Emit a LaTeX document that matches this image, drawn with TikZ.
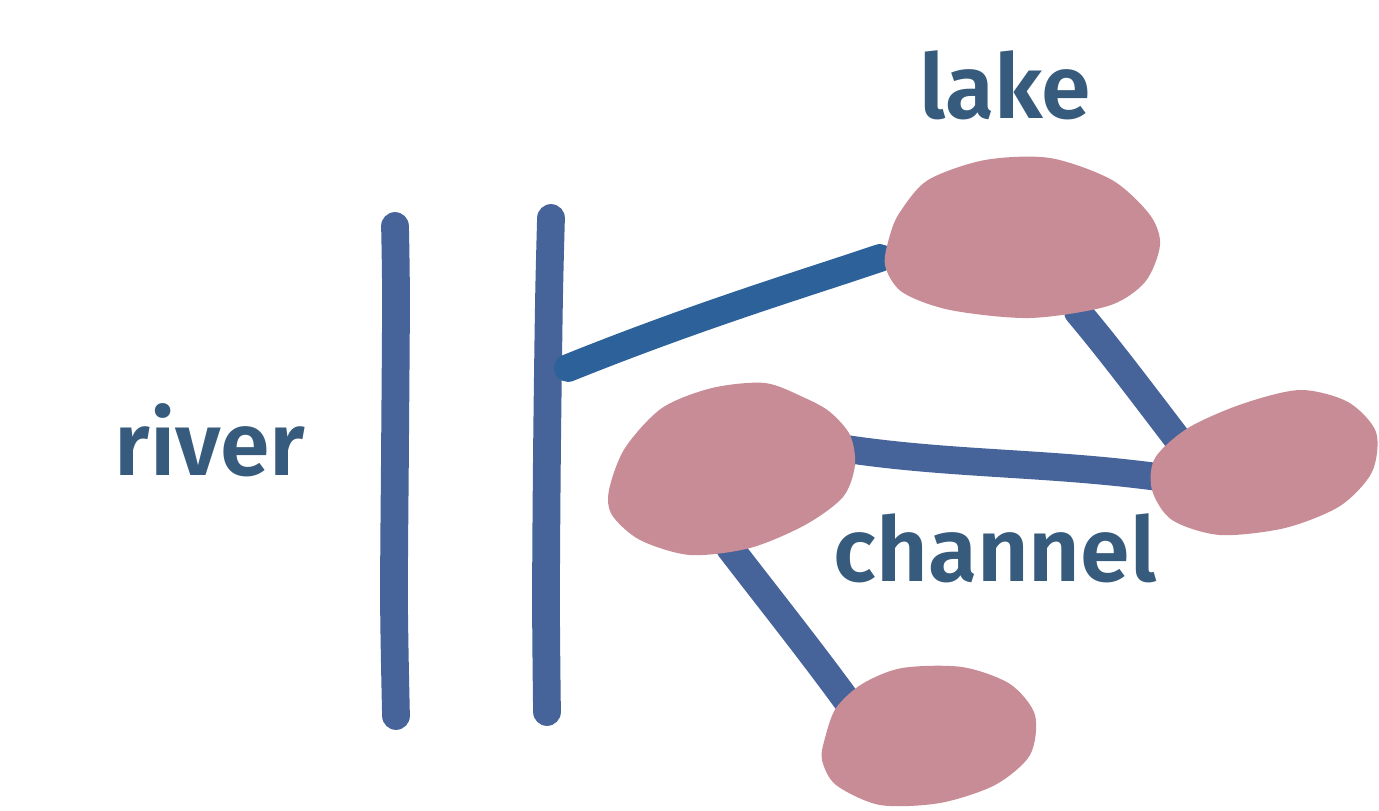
\documentclass[tikz,border=0pt]{standalone}
\usepackage{fontspec}
\setmainfont{Fira Sans}[BoldFont={* SemiBold}]
\definecolor{blusponda}{HTML}{46639A}
\definecolor{blucanale}{HTML}{2D6199}
\definecolor{rosamacchia}{HTML}{C88C96}
\definecolor{blutesto}{HTML}{365B7C}
\begin{document}
\begin{tikzpicture}[
    x=0.02cm, y=-0.02cm,
    tratto/.style={draw=blusponda,line width=15.8pt,line cap=round,line join=round},
    immissario/.style={tratto,draw=blucanale},
    macchia/.style={fill=rosamacchia},
    etichetta/.style={text=blutesto,font=\fontsize{51}{60}\selectfont\bfseries}]

  \useasboundingbox (0,0) rectangle (1379,811);

  % ---- punti di aggancio dei collegamenti -----------------------------------
  \coordinate (sponda) at (568,368);
  \coordinate (lago-ovest) at (880,258);
  \coordinate (lago-sud) at (1078,312);
  \coordinate (ansa-nord) at (1182,445);
  \coordinate (ansa-ovest) at (1165,478);
  \coordinate (canale-est) at (840,448);
  \coordinate (canale-sud) at (730,548);
  \coordinate (stagno-nord) at (850,705);

  % ---- le due sponde del fiume -----------------------------------------------
  \draw[tratto] plot[smooth] coordinates {(395,226) (396,300) (395,450) (394,600) (396,716)};
  \draw[tratto] plot[smooth] coordinates {(551,218) (549,300) (547,450) (546,600) (547,712)};

  % ---- collegamenti ------------------------------------------------------------
  \draw[immissario] (sponda) .. controls (700,315) and (800,285) .. (lago-ovest);
  \draw[tratto] (lago-sud) .. controls (1110,350) and (1140,390) .. (ansa-nord);
  \draw[tratto] (canale-est) .. controls (950,465) and (1050,462) .. (ansa-ovest);
  \draw[tratto] (canale-sud) .. controls (770,600) and (810,650) .. (stagno-nord);

  % ---- macchie (lago, ansa, canale, stagno) ------------------------------------
  \fill[macchia] plot[smooth cycle] coordinates {(900,212) (928,180) (985,160) (1050,158)
    (1112,180) (1150,215) (1160,245) (1145,282) (1108,306) (1030,318) (950,310)
    (902,292) (885,265) (890,235)};
  \fill[macchia] plot[smooth cycle] coordinates {(1155,458) (1188,428) (1242,404) (1300,390)
    (1348,402) (1376,432) (1372,472) (1340,506) (1285,528) (1220,535) (1172,520)
    (1152,490)};
  \fill[macchia] plot[smooth cycle] coordinates {(609,490) (625,448) (662,408) (712,388)
    (765,383) (805,398) (830,412) (850,435) (855,465) (843,497) (805,525) (750,548)
    (690,555) (640,540) (612,515)};
  \fill[macchia] plot[smooth cycle] coordinates {(825,738) (836,708) (862,684) (902,668)
    (962,667) (1010,684) (1035,715) (1030,755) (995,785) (940,803) (880,805)
    (836,785) (822,760)};

  % ---- scritte --------------------------------------------------------------------
  \node[etichetta] (lago) at (1005,85) {lake};
  \node[etichetta] (fiume) at (210,440) {river};
  \node[etichetta] (canale) at (995,548) {channel};

\end{tikzpicture}
\end{document}
